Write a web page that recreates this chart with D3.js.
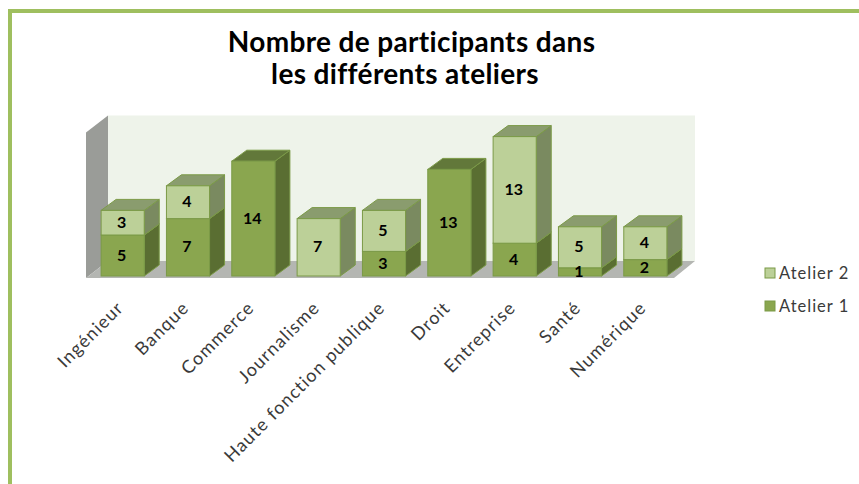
<!DOCTYPE html>
<html>
<head>
<meta charset="utf-8">
<script src="https://cdn.jsdelivr.net/npm/d3@7"></script>
<style>
  html, body { margin: 0; padding: 0; background: #fff; overflow: hidden; }
  text { font-family: Lato, "Open Sans", sans-serif; }
</style>
</head>
<body>
<div id="chart"></div>
<script>
const width = 859;
const height = 484;

const categories = ['Ingénieur', 'Banque', 'Commerce', 'Journalisme', 'Haute fonction publique', 'Droit', 'Entreprise', 'Santé', 'Numérique'];
const atelier1 = [5, 7, 14, 0, 3, 13, 4, 1, 2];
const atelier2 = [3, 4, 0, 7, 5, 0, 13, 5, 4];
const seriesNames = ['Atelier 1', 'Atelier 2'];
const titleLines = ['Nombre de participants dans', 'les différents ateliers'];

// depth of the fake 3d
const dx = 15;
const dy = -11;

const colors = {
  'Atelier 1': { front: '#8aa64f', side: '#5a6e32', top: '#62783a', line: '#7b9a47' },
  'Atelier 2': { front: '#bcd098', side: '#7a8a60', top: '#8a9c6e', line: '#7b9a47' }
};

const svg = d3.select('#chart')
  .append('svg')
    .attr('width', width)
    .attr('height', height);

// frame, runs off the right and bottom of the picture
svg.append('rect')
  .attr('x', 10)
  .attr('y', 11)
  .attr('width', width + 20)
  .attr('height', height + 20)
  .attr('fill', '#fff')
  .attr('stroke', '#9fbf5f')
  .attr('stroke-width', 4);

// second line sits a bit left of the first in the original
svg.append('text')
  .attr('text-anchor', 'middle')
  .attr('font-weight', 700)
  .attr('font-size', 28)
  .attr('letter-spacing', 0.35)
  .attr('fill', '#000')
  .selectAll('tspan')
  .data(titleLines)
  .join('tspan')
    .attr('x', (d, i) => i ? 405 : 411.5)
    .attr('y', (d, i) => 52 + i * 32)
    .text(d => d);

const x = d3.scaleBand()
  .domain(categories)
  .range([90, 678])
  .paddingInner(0.34)
  .paddingOuter(0.17);

const y = d3.scaleLinear().domain([0, 18]).range([276, 276 - 18 * 8.2]);

const table = categories.map((c, i) => ({ category: c, 'Atelier 1': atelier1[i], 'Atelier 2': atelier2[i] }));
const stacked = d3.stack().keys(seriesNames)(table);

// walls and floor
const floorY = y(0) + 2;
const wallLeft = 86;
const wallRight = 674;
const wallTop = y(18) + 4;

const pts = a => a.map(p => p.join(',')).join(' ');

const room = svg.append('g');
room.append('polygon')
  .attr('points', pts([[wallLeft + 22, wallTop - 17], [wallRight + 21, wallTop - 17], [wallRight + 21, floorY - 17], [wallLeft + 22, floorY - 17]]))
  .attr('fill', '#eef3ea');
room.append('polygon')
  .attr('points', pts([[wallLeft, wallTop], [wallLeft + 22, wallTop - 17], [wallLeft + 22, floorY - 17], [wallLeft, floorY]]))
  .attr('fill', '#9a9c98');
room.append('polygon')
  .attr('points', pts([[wallLeft, floorY], [wallLeft + 22, floorY - 17], [wallRight + 21, floorY - 17], [wallRight, floorY]]))
  .attr('fill', '#b4b6b2');

// bars, bottom segment first so the upper ones sit over it
const bars = svg.append('g');
categories.forEach((c, i) => {
  stacked.forEach(layer => {
    const v = layer[i];
    if (v[1] === v[0]) return;
    const col = colors[layer.key];
    const x0 = x(c);
    const x1 = x0 + x.bandwidth();
    const y0 = y(v[0]);
    const y1 = y(v[1]);
    const g = bars.append('g')
      .attr('stroke', col.line)
      .attr('stroke-width', 1);
    g.append('polygon')
      .attr('points', pts([[x1, y0], [x1 + dx, y0 + dy], [x1 + dx, y1 + dy], [x1, y1]]))
      .attr('fill', col.side);
    g.append('polygon')
      .attr('points', pts([[x0, y1], [x0 + dx, y1 + dy], [x1 + dx, y1 + dy], [x1, y1]]))
      .attr('fill', col.top);
    g.append('rect')
      .attr('x', x0)
      .attr('y', y1)
      .attr('width', x.bandwidth())
      .attr('height', y0 - y1)
      .attr('fill', col.front);
  });
});

// value labels
stacked.forEach(layer => {
  svg.append('g')
    .selectAll('text')
    .data(layer.filter(d => d[1] > d[0]))
    .join('text')
      .attr('x', d => x(d.data.category) + x.bandwidth() / 2 - 1)
      .attr('y', d => (y(d[0]) + y(d[1])) / 2 + 5)
      .attr('text-anchor', 'middle')
      .attr('font-weight', 700)
      .attr('font-size', 16)
      .attr('fill', '#000')
      .text(d => d[1] - d[0]);
});

// category labels
svg.append('g')
  .selectAll('text')
  .data(categories)
  .join('text')
    .attr('transform', d => `translate(${x(d) + x.bandwidth() / 2 + 2}, 309) rotate(-45)`)
    .attr('text-anchor', 'end')
    .attr('font-size', 18)
    .attr('letter-spacing', 1.15)
    .attr('fill', '#3a3a3a')
    .text(d => d);

// legend, Atelier 2 on top
const legend = svg.append('g')
  .selectAll('g')
  .data(seriesNames.slice().reverse())
  .join('g')
    .attr('transform', (d, i) => `translate(765, ${268 + i * 33})`);

legend.append('rect')
  .attr('width', 10)
  .attr('height', 10)
  .attr('fill', d => colors[d].front)
  .attr('stroke', d => colors[d].line);

legend.append('text')
  .attr('x', 14)
  .attr('y', 11)
  .attr('font-size', 16.5)
  .attr('letter-spacing', 1)
  .attr('fill', '#3a3a3a')
  .text(d => d);
</script>
</body>
</html>
